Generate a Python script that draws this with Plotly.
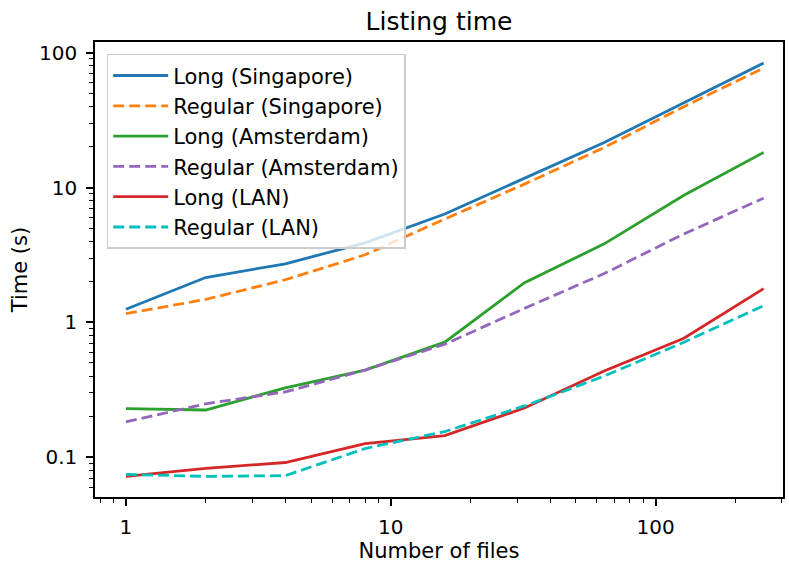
import plotly.graph_objects as go
import numpy as np

files = [1, 2, 4, 8, 16, 32, 64, 128, 256]
long_singapore = [1.25, 2.15, 2.72, 3.89, 6.36, 11.7, 21.6, 42.5, 83.8]
regular_singapore = [1.16, 1.48, 2.07, 3.17, 5.84, 10.6, 19.8, 39.8, 77.0]
long_amsterdam = [0.229, 0.224, 0.327, 0.443, 0.713, 1.97, 3.82, 8.77, 18.2]
regular_amsterdam = [0.183, 0.249, 0.305, 0.443, 0.689, 1.27, 2.30, 4.53, 8.34]
long_lan = [0.0721, 0.0826, 0.0914, 0.126, 0.1445, 0.232, 0.436, 0.762, 1.78]
regular_lan = [0.0746, 0.0721, 0.073, 0.116, 0.155, 0.24, 0.40, 0.713, 1.33]

x_ticks = [1, 10, 100]
x_tick_labels = ["1", "10", "100"]
y_ticks = [0.1, 1, 10, 100]
y_tick_labels = ["0.1", "1", "10", "100"]

series = [
    ("Long (Singapore)", long_singapore, "#1f77b4", "solid"),
    ("Regular (Singapore)", regular_singapore, "#ff7f0e", "11px,5px"),
    ("Long (Amsterdam)", long_amsterdam, "#2ca02c", "solid"),
    ("Regular (Amsterdam)", regular_amsterdam, "#9467bd", "11px,5px"),
    ("Long (LAN)", long_lan, "#d62728", "solid"),
    ("Regular (LAN)", regular_lan, "#00bfbf", "11px,5px"),
]

fig = go.Figure()
for i, (name, vals, color, dash) in enumerate(series):
    fig.add_trace(go.Scatter(x=files, y=vals, mode="lines", name=name,
                             legendgroup=str(i),
                             line=dict(color=color, width=2.8, dash=dash)))

minor_x = [d * 10 ** e for e in range(-1, 3) for d in range(2, 10)]
minor_y = [d * 10 ** e for e in range(-2, 3) for d in range(2, 10)]

font = "DejaVu Sans"
fig.update_layout(
    width=789, height=563,
    margin=dict(l=95, r=4, t=42, b=63),
    paper_bgcolor="white", plot_bgcolor="white",
    font=dict(family=font, size=20, color="black"),
    title=dict(text="Listing time", x=0.5, xref="paper", y=0.962, yref="container",
               xanchor="center", yanchor="middle", font=dict(size=25, color="black")),
    showlegend=True,
    legend=dict(x=0.017, y=0.974, xanchor="left", yanchor="top",
                bgcolor="rgba(255,255,255,0.8)", bordercolor="#cccccc", borderwidth=1.5,
                font=dict(size=21, color="black"), tracegroupgap=0,
                itemwidth=55, traceorder="grouped"),
    xaxis=dict(type="log", range=[np.log10(0.764), np.log10(303)],
               tickvals=x_ticks, ticktext=x_tick_labels,
               ticks="outside", ticklen=7, tickwidth=1.5, tickcolor="black",
               ticklabelstandoff=4,
               showline=True, linecolor="black", linewidth=1.5, mirror=True,
               showgrid=False, zeroline=False,
               title=dict(text="Number of files", font=dict(size=21), standoff=6),
               tickfont=dict(size=20),
               minor=dict(tickvals=minor_x, ticks="outside", ticklen=4,
                          tickwidth=1.2, tickcolor="black", showgrid=False)),
    yaxis=dict(type="log", range=[np.log10(0.0507), np.log10(120)],
               tickvals=y_ticks, ticktext=y_tick_labels,
               ticks="outside", ticklen=7, tickwidth=1.5, tickcolor="black",
               ticklabelstandoff=5,
               showline=True, linecolor="black", linewidth=1.5, mirror=True,
               showgrid=False, zeroline=False,
               title=dict(text="Time (s)", font=dict(size=21), standoff=6),
               tickfont=dict(size=20),
               minor=dict(tickvals=minor_y, ticks="outside", ticklen=4,
                          tickwidth=1.2, tickcolor="black", showgrid=False)),
)

fig.write_html("out.html")
